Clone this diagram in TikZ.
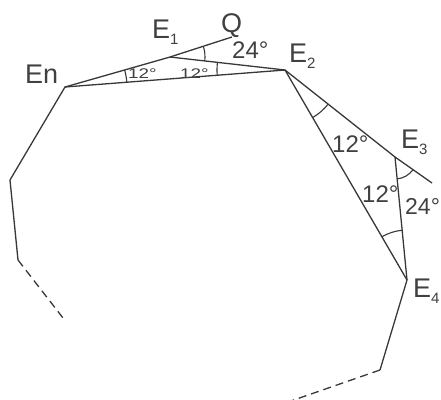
\documentclass[tikz,border=0pt]{standalone}
\usepackage{fontspec}
\setmainfont{Liberation Sans}
\usetikzlibrary{angles}
\definecolor{ink}{HTML}{383838}
\definecolor{txt}{HTML}{404040}
\newcommand{\subsc}[1]{{\fontsize{15}{15}\selectfont\raisebox{-6pt}{#1}}}
\tikzset{
  edge/.style={draw=ink, line width=1.3pt, line join=miter},
  dashedge/.style={draw=ink, line width=1.3pt, dash pattern=on 8pt off 5pt},
  lab/.style={inner sep=0pt, anchor=base west, text=txt, font=\fontsize{27}{27}\selectfont},
  deg/.style={inner sep=0pt, anchor=base west, text=txt, font=\fontsize{24}{24}\selectfont},
  smalldeg/.style={inner sep=0pt, anchor=base west, text=txt, font=\fontsize{14}{14}\selectfont},
  arcmark/.style={draw=ink, line width=1.1pt}
}
\begin{document}
\begin{tikzpicture}[x=1pt,y=-1pt]
\useasboundingbox (0,0) rectangle (441,399);
\clip (0,0) rectangle (441,399);
% vertices
\coordinate (En) at (65,87);
\coordinate (E1) at (170,57);
\coordinate (Q) at (232,37);
\coordinate (E2) at (285,70);
\coordinate (E3) at (395,157);
\coordinate (E3e) at (432,183);
\coordinate (E4) at (407,280);
\coordinate (P5) at (380,370);
\coordinate (P6) at (288,402);
\coordinate (P1) at (10,180);
\coordinate (P2) at (18,260);
\coordinate (P3) at (63,318);
% edges
\draw[edge] (P2) -- (P1) -- (En) -- (E1) -- (Q);
\draw[edge] (E1) -- (E2);
\draw[edge] (En) -- (E2);
\draw[edge] (E2) -- (E3) -- (E3e);
\draw[edge] (E2) -- (E4);
\draw[edge] (E3) -- (E4) -- (P5);
\draw[dashedge] (P5) -- (P6);
\draw[dashedge] (P2) -- (P3);
% angle marks
\pic[arcmark, angle radius=62pt] {angle = E2--En--E1};
\pic[arcmark, angle radius=35pt] {angle = E2--E1--Q};
\pic[arcmark, angle radius=68pt] {angle = E1--E2--En};
\pic[arcmark, angle radius=55pt] {angle = E4--E2--E3};
\pic[arcmark, angle radius=22pt] {angle = E4--E3--E3e};
\pic[arcmark, angle radius=50pt] {angle = E3--E4--E2};
% labels
\node[lab] (lEn) at (25,83) {En};
\node[lab] (lE1) at (152,38) {E\subsc{1}};
\node[lab] (lQ) at (221,32) {Q};
\node[lab] (lE2) at (289,62) {E\subsc{2}};
\node[lab] (lE3) at (401,148) {E\subsc{3}};
\node[lab] (lE4) at (413,297) {E\subsc{4}};
\node[deg] (a24t) at (232,58) {24°};
\node[deg] (a12r) at (332,152) {12°};
\node[deg] (a12l) at (362,202) {12°};
\node[deg, font=\fontsize{23}{23}\selectfont] (a24r) at (405,214) {24°};
\node[smalldeg] (s12a) at (128,78) {\scalebox{1.35}[1]{12°}};
\node[smalldeg] (s12b) at (180,78) {\scalebox{1.35}[1]{12°}};
\end{tikzpicture}
\end{document}
